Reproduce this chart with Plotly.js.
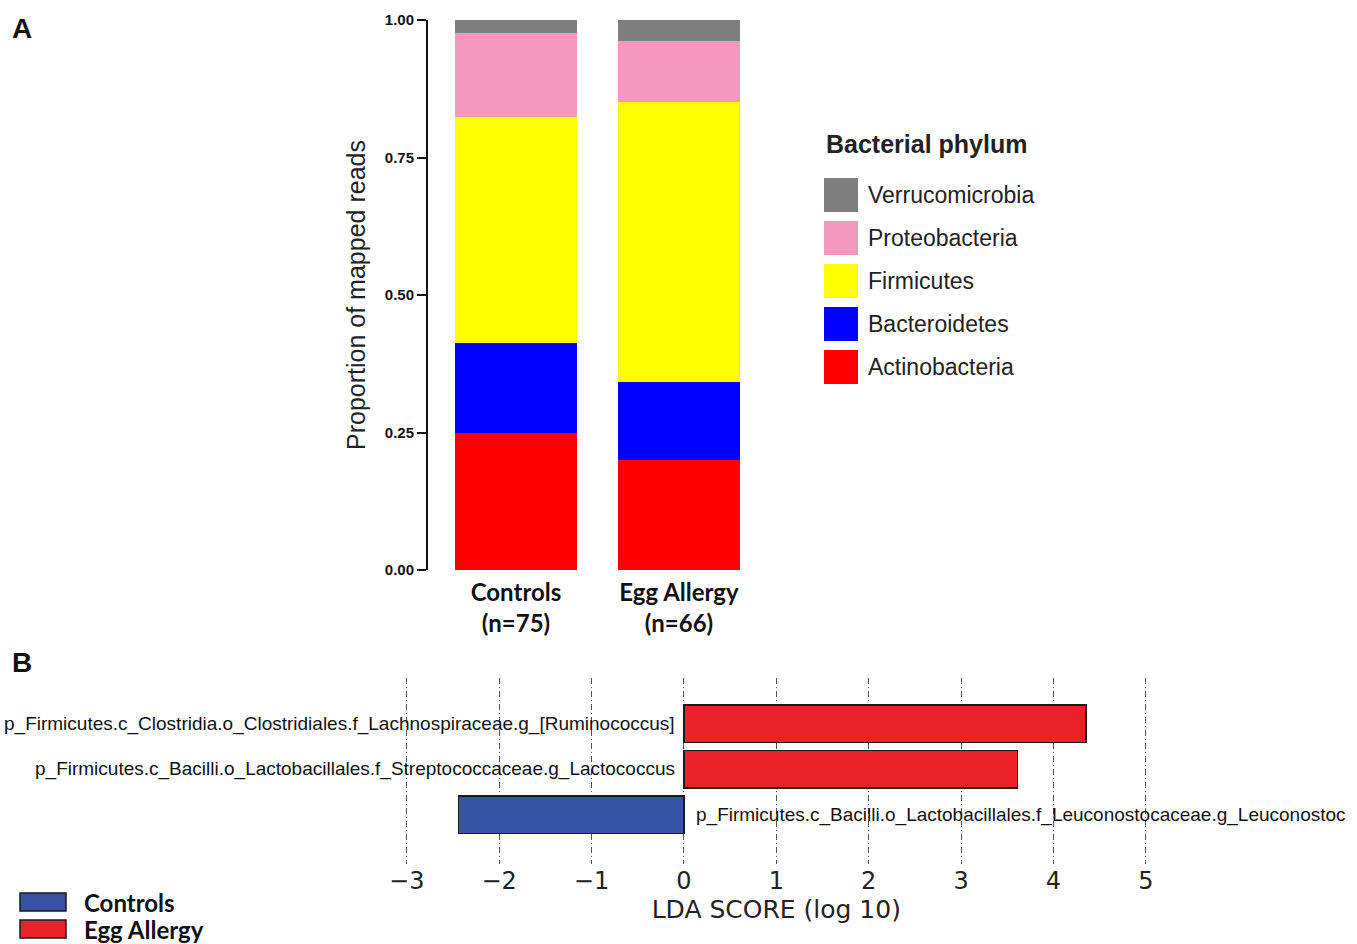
<!DOCTYPE html>
<html><head><meta charset="utf-8">
<script src="https://cdn.plot.ly/plotly-3.0.1.min.js"></script>
<style>html,body{margin:0;padding:0;background:#fff}#chart{width:1357px;height:944px}</style>
</head><body><div id="chart"></div>
<script>
// Panel A data
const groups = ["Controls", "Egg Allergy"];
const groupLabels = ["Controls<br>(n=75)", "Egg Allergy<br>(n=66)"];
const phyla = ["Actinobacteria", "Bacteroidetes", "Firmicutes", "Proteobacteria", "Verrucomicrobia"];
const phylumColors = ["#ff0000", "#0000ff", "#ffff00", "#f498c0", "#7f7f7f"];
const actinobacteria = [0.250, 0.200];
const bacteroidetes = [0.162, 0.142];
const firmicutes = [0.412, 0.509];
const proteobacteria = [0.152, 0.111];
const verrucomicrobia = [0.024, 0.038];
const phylumValues = [actinobacteria, bacteroidetes, firmicutes, proteobacteria, verrucomicrobia];
const yTicks = [0, 0.25, 0.5, 0.75, 1.0];
const yTickText = ["0.00", "0.25", "0.50", "0.75", "1.00"];

// Panel B data
const taxa = [
  "p_Firmicutes.c_Clostridia.o_Clostridiales.f_Lachnospiraceae.g_[Ruminococcus]",
  "p_Firmicutes.c_Bacilli.o_Lactobacillales.f_Streptococcaceae.g_Lactococcus",
  "p_Firmicutes.c_Bacilli.o_Lactobacillales.f_Leuconostocaceae.g_Leuconostoc"
];
const ldaScores = [4.35, 3.61, -2.44];
const ldaGroup = ["Egg Allergy", "Egg Allergy", "Controls"];
const groupColors = {"Controls": "#3953a4", "Egg Allergy": "#ec2028"};
const ldaTicks = [-3, -2, -1, 0, 1, 2, 3, 4, 5];

const W = 1357, H = 944;
const px = x => x / W, py = y => 1 - y / H;

const traces = [];
phyla.forEach((p, i) => {
  traces.push({
    type: "bar", x: groups, y: phylumValues[i], name: p,
    marker: {color: phylumColors[i], line: {width: 0}},
    xaxis: "x", yaxis: "y", showlegend: false, hoverinfo: "name+y"
  });
});
traces.push({
  type: "bar", orientation: "h", x: ldaScores, y: taxa, width: [0.82, 0.82, 0.82],
  marker: {color: ldaGroup.map(g => groupColors[g]), line: {color: "#1a1a1a", width: 1.5}},
  xaxis: "x2", yaxis: "y2", showlegend: false, hoverinfo: "x"
});

const shapes = [];
const annotations = [];

// Panel letters
annotations.push({xref: "paper", yref: "paper", x: px(10), y: py(28), xanchor: "left", yanchor: "middle",
  text: "<b>A</b>", showarrow: false, font: {family: "Liberation Sans, Arial", size: 28, color: "#111"}});
annotations.push({xref: "paper", yref: "paper", x: px(10), y: py(662), xanchor: "left", yanchor: "middle",
  text: "<b>B</b>", showarrow: false, font: {family: "Liberation Sans, Arial", size: 28, color: "#111"}});

// Legend A (manual, large swatches)
annotations.push({xref: "paper", yref: "paper", x: px(824), y: py(144), xanchor: "left", yanchor: "middle",
  text: "<b>Bacterial phylum</b>", showarrow: false, font: {family: "Liberation Sans, Arial", size: 25, color: "#222"}});
const legendOrder = [4, 3, 2, 1, 0];
legendOrder.forEach((idx, k) => {
  const top = 178 + k * 43;
  shapes.push({type: "rect", xref: "paper", yref: "paper", x0: px(824), x1: px(858), y0: py(top), y1: py(top + 34),
    fillcolor: phylumColors[idx], line: {width: 0}});
  annotations.push({xref: "paper", yref: "paper", x: px(866), y: py(top + 17), xanchor: "left", yanchor: "middle",
    text: phyla[idx], showarrow: false, font: {family: "Liberation Sans, Arial", size: 23, color: "#222"}});
});

// Legend B
["Controls", "Egg Allergy"].forEach((g, k) => {
  const top = 893 + k * 27;
  shapes.push({type: "rect", xref: "paper", yref: "paper", x0: px(20), x1: px(66), y0: py(top), y1: py(top + 18),
    fillcolor: groupColors[g], line: {color: "#1a1a1a", width: 1.5}});
  annotations.push({xref: "paper", yref: "paper", x: px(82), y: py(top + 9), xanchor: "left", yanchor: "middle",
    text: "<b>" + g + "</b>", showarrow: false, font: {family: "Lato, Carlito, sans-serif", size: 24, color: "#111"}});
});

// Taxon labels on the opposite side of zero
taxa.forEach((t, i) => {
  const pos = ldaScores[i] >= 0;
  annotations.push({xref: "x2", yref: "y2", x: 0, y: t, xanchor: pos ? "right" : "left", yanchor: "middle",
    xshift: pos ? -7 : 10, text: t, showarrow: false,
    font: {family: "Liberation Sans, Arial", size: 19, color: "#111"}});
});

const layout = {
  width: W, height: H,
  margin: {l: 0, r: 0, t: 0, b: 0},
  paper_bgcolor: "#fff", plot_bgcolor: "rgba(0,0,0,0)",
  barmode: "stack", bargap: 0.25,
  showlegend: false,
  xaxis: {
    domain: [px(428), px(767)], range: [-0.54, 1.54], anchor: "y",
    tickmode: "array", tickvals: groups, ticktext: groupLabels,
    ticks: "", showline: false, showgrid: false, zeroline: false,
    tickfont: {family: "Lato, Carlito, sans-serif", size: 24, color: "#111", weight: "bold"},
    ticklabelstandoff: 6
  },
  yaxis: {
    domain: [py(570), py(20)], range: [0, 1], anchor: "x",
    tickmode: "array", tickvals: yTicks, ticktext: yTickText,
    ticks: "outside", ticklen: 9, tickwidth: 2, tickcolor: "#111",
    showline: true, linecolor: "#111", linewidth: 2,
    showgrid: false, zeroline: false,
    tickfont: {family: "Liberation Sans, Arial", size: 15, color: "#111", weight: "bold"},
    title: {text: "Proportion of mapped reads", standoff: 12,
      font: {family: "Liberation Sans, Arial", size: 25, color: "#222"}}
  },
  xaxis2: {
    domain: [px(360.6), px(1192)], range: [-3.5, 5.5], anchor: "y2",
    tickmode: "array", tickvals: ldaTicks,
    ticks: "", showline: false, zeroline: false,
    showgrid: true, gridcolor: "#555", gridwidth: 1, griddash: "6px,3px,1px,3px",
    tickfont: {family: "DejaVu Sans", size: 24, color: "#222"},
    title: {text: "LDA SCORE (log 10)", standoff: 6, font: {family: "DejaVu Sans", size: 25, color: "#222"}}
  },
  yaxis2: {
    domain: [py(864), py(678)], anchor: "x2",
    type: "category", categoryorder: "array", categoryarray: taxa,
    range: [3.08, -1],
    showticklabels: false, ticks: "", showline: false, showgrid: false, zeroline: false
  },
  shapes: shapes,
  annotations: annotations,
  font: {family: "Liberation Sans, Arial"}
};

Plotly.newPlot("chart", traces, layout, {displayModeBar: false, staticPlot: true});
</script></body></html>
